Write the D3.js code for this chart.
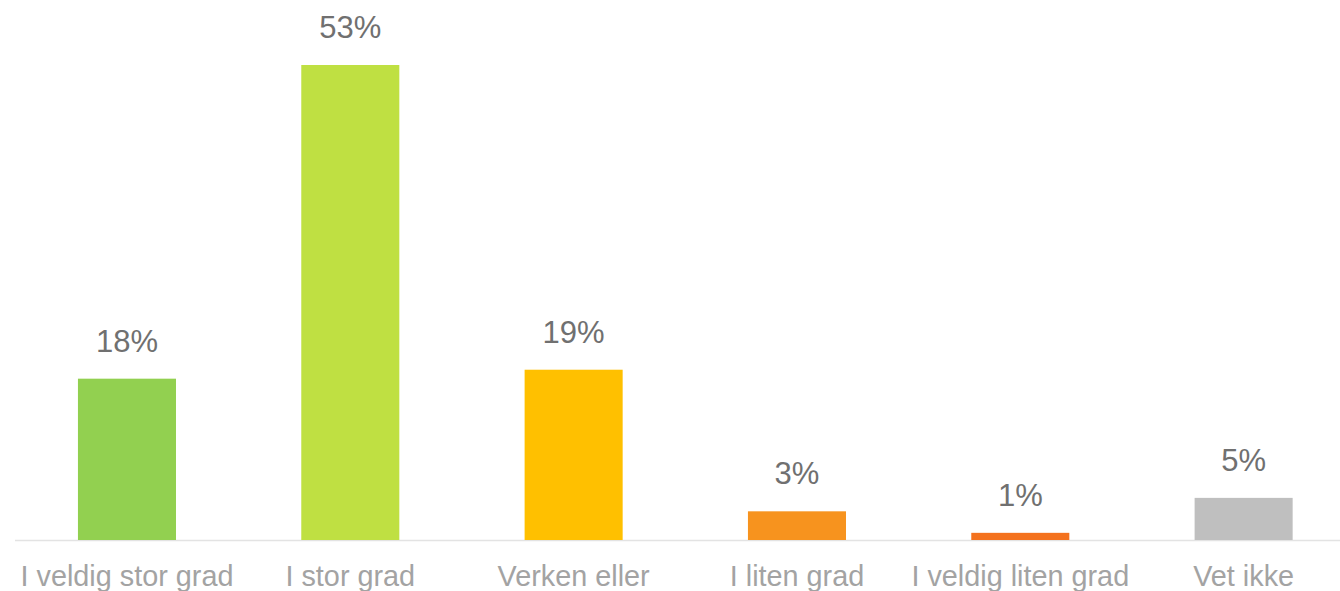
<!DOCTYPE html>
<html>
<head>
<meta charset="utf-8">
<script src="https://cdn.jsdelivr.net/npm/d3@7/dist/d3.min.js"></script>
<style>
  html, body { margin: 0; padding: 0; background: #fff; }
  svg { display: block; }
</style>
</head>
<body>
<svg id="chart" width="1340" height="591"></svg>
<script>
const categories = ["I veldig stor grad", "I stor grad", "Verken eller", "I liten grad", "I veldig liten grad", "Vet ikke"];
const values = [18, 53, 19, 3.2, 0.8, 4.7];
const labels = ["18%", "53%", "19%", "3%", "1%", "5%"];
const colors = ["#92d050", "#bfe042", "#ffc000", "#f7931e", "#f4721e", "#bfbfbf"];

const svg = d3.select("#chart");
const baseY = 540;
const x = d3.scaleBand().domain(categories).range([15.3, 1355.3]).paddingInner(0.561).paddingOuter(0.2805);
const y = d3.scaleLinear().domain([0, 53]).range([baseY, 65]);

svg.append("line")
  .attr("x1", 15).attr("x2", 1340)
  .attr("y1", baseY + 0.5).attr("y2", baseY + 0.5)
  .attr("stroke", "#e3e3e3").attr("stroke-width", 1.5);

svg.selectAll("rect.bar").data(categories).join("rect")
  .attr("class", "bar")
  .attr("x", d => x(d))
  .attr("width", x.bandwidth())
  .attr("y", (d, i) => y(values[i]))
  .attr("height", (d, i) => baseY - y(values[i]))
  .attr("fill", (d, i) => colors[i]);

svg.selectAll("text.val").data(categories).join("text")
  .attr("class", "val")
  .attr("x", d => x(d) + x.bandwidth() / 2)
  .attr("y", (d, i) => y(values[i]) - 27)
  .attr("text-anchor", "middle")
  .attr("font-family", "Liberation Sans, Arial, sans-serif")
  .attr("font-size", 31)
  .attr("fill", "#707070")
  .text((d, i) => labels[i]);

const axis = d3.axisBottom(x).tickSize(0).tickPadding(0);
const g = svg.append("g").attr("transform", `translate(0,${baseY})`).call(axis);
g.select(".domain").remove();
g.selectAll("text")
  .attr("dy", null)
  .attr("y", 46)
  .attr("font-family", "Liberation Sans, Arial, sans-serif")
  .attr("font-size", 28.8)
  .attr("fill", "#a3a3a3");
</script>
</body>
</html>
